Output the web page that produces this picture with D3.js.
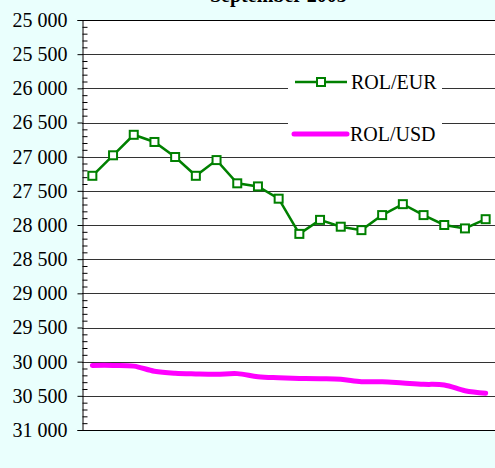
<!DOCTYPE html>
<html>
<head>
<meta charset="utf-8">
<script src="https://cdn.jsdelivr.net/npm/d3@7"></script>
<style>
html,body{margin:0;padding:0;background:#eafffd;overflow:hidden;}
svg text{font-family:"Liberation Serif","Times New Roman","DejaVu Serif",serif !important;}
</style>
</head>
<body>
<svg id="chart" width="495" height="468" style="display:block"></svg>
<script>
const title = "September 2003";
const categories = ["3","4","5","6","7","10","11","12","13","14","17","18","19","20","21","24","25","26","27","28"];
const xTickLabels = ["3","5","7","11","13","17","19","21","25","27"];
const yTicks = [25000,25500,26000,26500,27000,27500,28000,28500,29000,29500,30000,30500,31000];
const rolEur = [27280,26980,26680,26785,27005,27280,27050,27390,27435,27615,28130,27925,28025,28075,27855,27695,27855,28000,28050,27915];
const rolUsd = [30055,30055,30065,30140,30170,30180,30185,30175,30220,30235,30245,30250,30258,30293,30293,30312,30331,30341,30425,30463];
const seriesNames = ["ROL/EUR","ROL/USD"];

const svg = d3.select("#chart");
const L = 82, R = 496, T = 20, B = 430;
const x = d3.scalePoint().domain(categories).range([L, R]).padding(0.5);
const y = d3.scaleLinear().domain([25000, 31000]).range([T, B]);

svg.append("rect").attr("x", L).attr("y", T).attr("width", R - L).attr("height", B - T).attr("fill", "#ffffff");

svg.append("g").selectAll("line").data(yTicks).join("line")
  .attr("x1", L).attr("x2", R)
  .attr("y1", d => Math.round(y(d)) + 0.5).attr("y2", d => Math.round(y(d)) + 0.5)
  .attr("stroke", d => (d === 25000 || d === 31000) ? "#000" : "#333").attr("stroke-width", 1);

svg.append("text").attr("x", 210).attr("y", 1.5).attr("font-weight", "bold").attr("font-size", 20).attr("fill", "#000").text(title);

const fmt = d3.format(",");
const yAxis = d3.axisLeft(y).tickValues(yTicks).tickSize(5).tickPadding(10)
  .tickFormat(d => fmt(d).replace(/,/g, " "));
const gy = svg.append("g").attr("transform", `translate(${L + 0.5},0)`).call(yAxis);
gy.attr("font-family", null);
gy.selectAll("text").attr("font-size", 20).attr("fill", "#000");
gy.selectAll("line").attr("stroke", "#000");
gy.select(".domain").attr("stroke", "#000");

const minor = d3.range(25000, 31001, 100).filter(v => v % 500 !== 0);
const gm = svg.append("g").attr("transform", `translate(${L + 0.5},0)`)
  .call(d3.axisRight(y).tickValues(minor).tickSize(5).tickFormat(""));
gm.select(".domain").remove();
gm.selectAll("line").attr("stroke", "#000");

const xAxis = d3.axisBottom(x).tickValues(xTickLabels).tickSize(0).tickPadding(39);
const gx = svg.append("g").attr("transform", `translate(0,${B + 0.5})`).call(xAxis);
gx.attr("font-family", null);
gx.selectAll("text").attr("font-size", 20).attr("fill", "#000");
gx.select(".domain").attr("stroke", "#000").attr("d", `M${L},0H${R}`);

const lineEur = d3.line().x((d, i) => x(categories[i])).y(d => y(d));
const lineUsd = d3.line().x((d, i) => x(categories[i])).y(d => y(d)).curve(d3.curveCatmullRom.alpha(0.5));

svg.append("path").datum(rolUsd).attr("d", lineUsd).attr("fill", "none")
  .attr("stroke", "#ff00ff").attr("stroke-width", 5).attr("stroke-linecap", "round");

svg.append("path").datum(rolEur).attr("d", lineEur).attr("fill", "none")
  .attr("stroke", "#008000").attr("stroke-width", 2.5);
svg.append("g").selectAll("rect").data(rolEur).join("rect")
  .attr("x", (d, i) => x(categories[i]) - 4).attr("y", d => y(d) - 4)
  .attr("width", 8).attr("height", 8)
  .attr("fill", "#fff").attr("stroke", "#008000").attr("stroke-width", 2);

const lg = svg.append("g");
lg.append("rect").attr("x", 288).attr("y", 65).attr("width", 154).attr("height", 85).attr("fill", "#fff");
lg.append("line").attr("x1", 295).attr("x2", 347).attr("y1", 82).attr("y2", 82).attr("stroke", "#008000").attr("stroke-width", 2.5);
lg.append("rect").attr("x", 317).attr("y", 78).attr("width", 8).attr("height", 8).attr("fill", "#fff").attr("stroke", "#008000").attr("stroke-width", 2);
lg.append("text").attr("x", 351).attr("y", 89).attr("font-size", 20).attr("fill", "#000").text(seriesNames[0]);
lg.append("line").attr("x1", 294).attr("x2", 347).attr("y1", 134).attr("y2", 134).attr("stroke", "#ff00ff").attr("stroke-width", 5).attr("stroke-linecap", "round");
lg.append("text").attr("x", 350).attr("y", 141).attr("font-size", 20).attr("fill", "#000").text(seriesNames[1]);
</script>
</body>
</html>
